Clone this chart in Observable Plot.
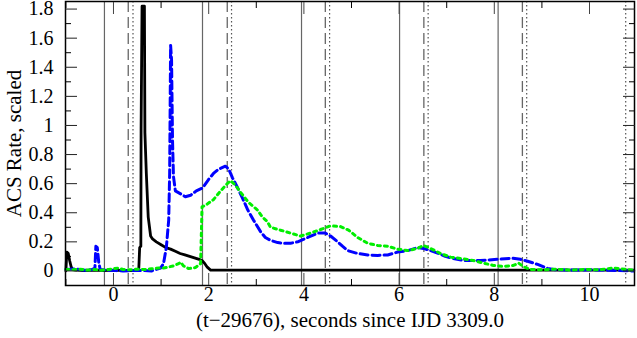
<!DOCTYPE html>
<html><head><meta charset="utf-8">
<script src="https://cdn.jsdelivr.net/npm/d3@7"></script>
<script src="https://cdn.jsdelivr.net/npm/@observablehq/plot@0.6"></script>
<style>body{margin:0;background:#fff}</style>
</head><body><div id="chart"></div>
<script>
// Black (solid) series
const blackT = [-1.0,-0.98,-0.95,-0.92,-0.89,-0.86,-0.8,-0.6,-0.4,-0.2,0.0,0.2,0.4,0.53,0.55,0.575,0.58,0.60,0.65,0.66,0.69,0.73,0.78,0.82,0.9,1.0,1.1,1.2,1.3,1.4,1.5,1.6,1.7,1.8,1.86,1.92,1.97,2.04,2.1,2.5,3.0,3.5,4.0,4.5,5.0,6.0,7.0,8.0,9.0,10.0,10.93];
const blackRate = [0.0,0.13,0.12,0.07,0.03,0.01,0.005,0.003,0.005,0.003,0.005,0.004,0.003,0.003,0.16,0.17,0.98,1.82,1.82,0.95,0.67,0.37,0.24,0.22,0.20,0.18,0.16,0.15,0.135,0.12,0.11,0.10,0.09,0.08,0.072,0.05,0.026,0.006,0.006,0.005,0.006,0.005,0.006,0.005,0.006,0.005,0.006,0.005,0.006,0.005,0.005];
// Blue (dashed) series
const blueT = [-1.0,-0.8,-0.6,-0.45,-0.39,-0.37,-0.34,-0.31,-0.28,-0.1,0.2,0.5,0.8,0.99,1.05,1.11,1.16,1.18,1.20,1.22,1.24,1.26,1.30,1.41,1.51,1.62,1.74,1.87,2.0,2.10,2.21,2.35,2.42,2.50,2.61,2.71,2.82,2.94,3.09,3.19,3.30,3.45,3.57,3.72,3.87,4.08,4.29,4.45,4.56,4.71,4.81,4.92,5.13,5.34,5.55,5.76,5.97,6.18,6.39,6.51,6.66,6.83,6.97,7.14,7.35,7.71,8.07,8.38,8.55,8.70,8.91,9.12,9.29,9.6,10.0,10.4,10.93];
const blueRate = [0.01,0.015,0.005,0.01,0.02,0.17,0.16,0.06,0.01,0.005,0.0,0.005,0.0,0.02,0.05,0.16,0.35,0.67,1.55,1.45,0.9,0.65,0.55,0.53,0.51,0.52,0.55,0.57,0.63,0.67,0.70,0.72,0.70,0.64,0.57,0.50,0.42,0.35,0.27,0.23,0.21,0.195,0.19,0.19,0.20,0.23,0.26,0.26,0.24,0.20,0.17,0.14,0.12,0.11,0.107,0.11,0.13,0.14,0.16,0.155,0.14,0.12,0.10,0.086,0.072,0.072,0.08,0.088,0.08,0.067,0.045,0.017,0.008,0.006,0.008,0.005,0.0];
// Green (dotted) series
const greenT = [-1.0,-0.85,-0.7,-0.55,-0.4,-0.25,-0.1,0.0,0.1,0.2,0.35,0.5,0.65,0.8,0.95,1.05,1.13,1.26,1.37,1.41,1.47,1.58,1.72,1.83,1.86,1.97,2.10,2.25,2.39,2.46,2.56,2.67,2.84,3.02,3.13,3.23,3.30,3.51,3.72,3.93,4.14,4.35,4.56,4.77,4.94,5.13,5.34,5.55,5.76,5.97,6.18,6.39,6.51,6.66,6.81,6.87,7.08,7.29,7.56,7.77,7.98,8.19,8.40,8.51,8.61,8.76,9.0,9.3,9.6,9.9,10.2,10.5,10.75,10.93];
const greenRate = [0.01,0.008,0.012,0.006,0.01,0.005,0.01,0.015,0.02,0.01,0.008,0.012,0.01,0.015,0.02,0.02,0.025,0.035,0.05,0.06,0.035,0.016,0.023,0.05,0.44,0.46,0.49,0.55,0.60,0.62,0.59,0.54,0.47,0.42,0.37,0.34,0.30,0.28,0.26,0.24,0.26,0.285,0.31,0.305,0.28,0.23,0.19,0.175,0.17,0.15,0.14,0.155,0.175,0.155,0.13,0.12,0.095,0.086,0.072,0.054,0.038,0.031,0.038,0.054,0.03,0.01,0.008,0.012,0.006,0.01,0.008,0.02,0.012,0.005];
// Vertical reference times
const solidLines = [-0.19, 1.87, 3.95, 6.01, 8.08];
const dashedLines = [0.31, 2.39, 4.45, 6.52, 8.59];
const dottedLines = [0.41, 2.48, 4.54, 6.61, 8.68, 10.76];
// Ticks
const majorX = [0, 2, 4, 6, 8, 10];
const minorX = [-1, 1, 3, 5, 7, 9];
const majorY = [0, 0.2, 0.4, 0.6, 0.8, 1, 1.2, 1.4, 1.6, 1.8];
const minorY = [0.1, 0.3, 0.5, 0.7, 0.9, 1.1, 1.3, 1.5, 1.7];
const xLabel = "(t\u221229676), seconds since IJD 3309.0";
const yLabel = "ACS Rate, scaled";

const rows = (t, v) => t.map((x, i) => ({t: x, v: v[i]}));
const fmt = d => `${d}`;

const tickAxes = [];
for (const anchor of ["bottom", "top"]) {
  tickAxes.push(Plot.axisX({ticks: majorX, anchor, tickSize: -12, fill: "none", label: null, stroke: "#444"}));
  tickAxes.push(Plot.axisX({ticks: minorX, anchor, tickSize: -6, fill: "none", label: null, stroke: "#000"}));
}
for (const anchor of ["left", "right"]) {
  tickAxes.push(Plot.axisY({ticks: majorY, anchor, tickSize: -12, fill: "none", label: null, stroke: "#222"}));
  tickAxes.push(Plot.axisY({ticks: minorY, anchor, tickSize: -6, fill: "none", label: null, stroke: "#000"}));
}

const chart = Plot.plot({
  width: 637, height: 338,
  marginLeft: 65, marginRight: 3, marginTop: 1, marginBottom: 53,
  style: {fontFamily: "'Liberation Serif', 'DejaVu Serif', serif", fontSize: "20px", background: "#fff", color: "#000", overflow: "visible"},
  x: {domain: [-1.008, 10.945]},
  y: {domain: [-0.1, 1.852]},
  marks: [
    Plot.ruleX(solidLines, {stroke: "#666", strokeWidth: 1.2}),
    Plot.ruleX(dashedLines, {stroke: "#666", strokeWidth: 1.3, strokeDasharray: "11,5"}),
    Plot.ruleX(dottedLines, {stroke: "#555", strokeWidth: 1.2, strokeDasharray: "1.5,2.5"}),
    Plot.line(rows(blackT, blackRate), {x: "t", y: "v", stroke: "#000", strokeWidth: 2.8}),
    Plot.line(rows(blueT, blueRate), {x: "t", y: "v", stroke: "#0000ff", strokeWidth: 3, strokeDasharray: "8,4"}),
    Plot.line(rows(greenT, greenRate), {x: "t", y: "v", stroke: "#00ee00", strokeWidth: 3, strokeDasharray: "3,4"}),
    Plot.frame({stroke: "#000", strokeWidth: 1.5}),
    ...tickAxes,
    Plot.axisX({ticks: majorX, anchor: "bottom", tickSize: 0, tickPadding: 1, label: null, tickFormat: fmt, fontSize: 20}),
    Plot.axisY({ticks: majorY, anchor: "left", tickSize: 0, tickPadding: 12, label: null, tickFormat: fmt}),
    Plot.text([xLabel], {text: d => d, frameAnchor: "bottom", textAnchor: "middle", lineAnchor: "bottom", dy: 41, fontSize: 21}),
    Plot.text([yLabel], {text: d => d, frameAnchor: "left", textAnchor: "middle", lineAnchor: "bottom", rotate: -90, dx: -45, fontSize: 21})
  ]
});
document.getElementById("chart").appendChild(chart);
</script>
</body></html>
